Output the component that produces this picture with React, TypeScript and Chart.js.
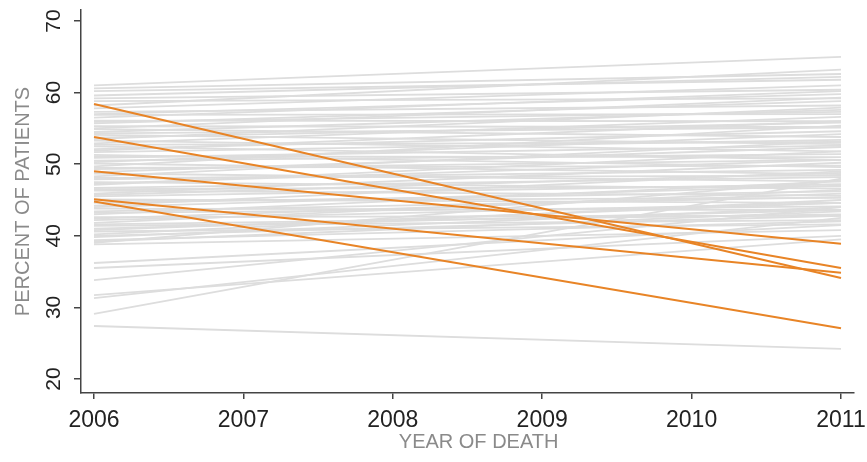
import React, { useEffect, useRef } from 'react';
import { Chart, registerables } from 'chart.js';

Chart.register(...registerables);

const YEARS = [2006, 2011];
const X_TICKS = [2006, 2007, 2008, 2009, 2010, 2011];
const Y_TICKS = [20, 30, 40, 50, 60, 70];

const GRAY_START = [
  61.0, 60.6, 60.2, 59.6, 59.2, 58.8, 57.8, 57.3, 56.9, 56.5, 56.1, 55.7, 55.3, 54.9, 54.5, 54.1,
  53.7, 53.3, 52.9, 52.5, 52.1, 51.7, 51.3, 50.9, 50.5, 50.1, 49.7, 49.3, 48.7, 48.3, 47.9, 47.5,
  47.1, 46.7, 46.3, 45.9, 45.5, 45.1, 44.6, 44.2, 43.8, 43.4, 43.0, 42.6, 42.2, 41.8, 41.4, 41.0,
  40.6, 40.2, 39.8, 39.4, 39.0, 38.8, 36.2, 35.5, 33.8, 31.7, 31.3, 29.1, 27.4,
  58.2, 57.0, 55.9, 55.0, 54.3, 53.5, 52.7, 51.9, 51.1, 50.3, 49.5, 48.9, 48.1, 47.3, 46.5, 45.7,
  44.9, 44.0, 43.2, 42.4, 41.6, 40.8, 40.0, 39.2,
];
const GRAY_END = [
  65.0, 62.6, 61.8, 62.2, 60.4, 59.2, 61.0, 58.2, 57.0, 60.2, 56.0, 58.8, 55.2, 53.8, 57.6, 52.8,
  55.8, 51.8, 56.6, 50.6, 54.6, 53.4, 49.6, 52.6, 51.4, 48.6, 55.4, 50.6, 47.6, 53.2, 49.2, 46.6,
  51.8, 48.2, 45.6, 50.2, 47.2, 44.6, 46.2, 49.0, 43.6, 45.4, 47.6, 42.8, 44.6, 46.4, 42.2, 43.6,
  41.6, 45.0, 44.0, 42.0, 47.8, 40.8, 41.5, 40.0, 44.0, 39.5, 42.5, 48.0, 24.2,
  63.2, 59.8, 57.3, 59.3, 55.1, 57.9, 53.1, 56.0, 51.0, 54.2, 49.8, 52.4, 48.4, 50.6, 46.9, 48.8,
  45.3, 47.0, 44.1, 45.9, 43.0, 44.6, 42.8, 43.4,
];

const ORANGE_START = [58.4, 53.8, 49.0, 45.1, 44.8];
const ORANGE_END = [34.1, 35.5, 38.9, 34.85, 27.1];

const GRAY = 'rgb(221,221,221)';
const ORANGE = 'rgb(232,132,38)';
const AXIS = '#444';

export default function App() {
  const ref = useRef<HTMLCanvasElement | null>(null);

  useEffect(() => {
    if (!ref.current) return;
    const grayDs = GRAY_START.map((s, i) => ({
      data: [
        { x: YEARS[0], y: s },
        { x: YEARS[1], y: GRAY_END[i] },
      ],
      borderColor: GRAY,
      borderWidth: 1.8,
      pointRadius: 0,
      order: 2,
    }));
    const orangeDs = ORANGE_START.map((s, i) => ({
      data: [
        { x: YEARS[0], y: s },
        { x: YEARS[1], y: ORANGE_END[i] },
      ],
      borderColor: ORANGE,
      borderWidth: 2,
      pointRadius: 0,
      order: 1,
    }));

    const chart = new Chart(ref.current, {
      type: 'line',
      data: { datasets: [...orangeDs, ...grayDs] as any },
      options: {
        animation: false,
        responsive: false,
        devicePixelRatio: 1,
        layout: { padding: { top: 10, right: 13, left: 0, bottom: 0 } },
        plugins: { legend: { display: false }, tooltip: { enabled: false } },
        elements: { line: { tension: 0 } },
        scales: {
          x: {
            type: 'linear',
            min: 2005.913,
            max: 2011.087,
            afterBuildTicks: (s: any) => {
              s.ticks = X_TICKS.map((v) => ({ value: v }));
            },
            afterFit: (s: any) => {
              s.height = 69;
              s.paddingLeft = 0;
              s.paddingRight = 0;
            },
            grid: {
              display: true,
              drawOnChartArea: false,
              drawTicks: true,
              tickLength: 6,
              color: AXIS,
              lineWidth: 1.5,
            },
            border: { display: true, color: AXIS, width: 1.5 },
            ticks: {
              autoSkip: false,
              maxRotation: 0,
              minRotation: 0,
              padding: 8,
              color: '#222',
              font: { family: "'Liberation Sans Narrow', 'Liberation Sans'", size: 23 },
              callback: (v: any) => String(v),
            },
            title: {
              display: true,
              text: '\u00a0\u00a0\u00a0\u00a0YEAR OF DEATH',
              color: '#8a8a8a',
              font: { family: "'Liberation Sans'", size: 20 },
              padding: { top: 0, bottom: 8 },
            },
          },
          y: {
            type: 'linear',
            min: 18.04,
            max: 71.54,
            afterBuildTicks: (s: any) => {
              s.ticks = Y_TICKS.map((v) => ({ value: v }));
            },
            afterFit: (s: any) => {
              s.width = 81;
              s.paddingTop = 0;
              s.paddingBottom = 0;
            },
            grid: {
              display: true,
              drawOnChartArea: false,
              drawTicks: true,
              tickLength: 7,
              color: AXIS,
              lineWidth: 1.5,
            },
            border: { display: true, color: AXIS, width: 1.5 },
            ticks: {
              autoSkip: false,
              minRotation: 90,
              maxRotation: 90,
              crossAlign: 'center',
              padding: 8,
              color: '#222',
              font: { family: "'Liberation Sans'", size: 21 },
              callback: (v: any) => String(v),
            },
            title: {
              display: true,
              text: 'PERCENT OF PATIENTS',
              color: '#8a8a8a',
              font: { family: "'Liberation Sans'", size: 20 },
              padding: { top: 11, bottom: 0 },
            },
          },
        },
      } as any,
    });
    return () => chart.destroy();
  }, []);

  return (
    <div style={{ position: 'fixed', left: 0, top: 0, width: 867, height: 462, background: '#fff' }}>
      <canvas ref={ref} width={867} height={462} style={{ display: 'block' }} />
    </div>
  );
}
